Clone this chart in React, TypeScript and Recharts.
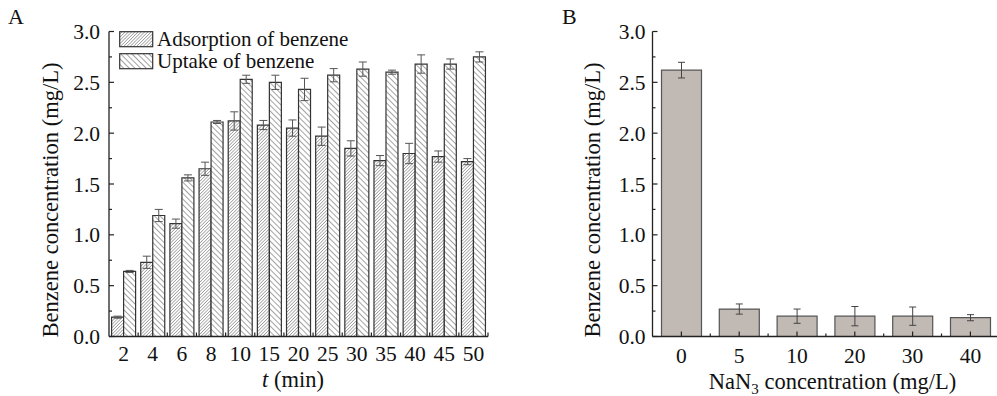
import React from "react"
import { BarChart, Bar, XAxis, YAxis, ErrorBar } from "recharts"

// panel A: time course
const TIMES = ["2", "4", "6", "8", "10", "15", "20", "25", "30", "35", "40", "45", "50"]
const ADSORPTION = [0.19, 0.73, 1.11, 1.65, 2.12, 2.08, 2.05, 1.97, 1.85, 1.73, 1.8, 1.77, 1.72]
const ADSORPTION_ERR = [0.01, 0.06, 0.045, 0.065, 0.09, 0.045, 0.08, 0.09, 0.075, 0.05, 0.1, 0.055, 0.03]
const UPTAKE = [0.64, 1.19, 1.56, 2.11, 2.53, 2.5, 2.43, 2.57, 2.63, 2.6, 2.68, 2.68, 2.75]
const UPTAKE_ERR = [0.01, 0.06, 0.03, 0.015, 0.04, 0.07, 0.11, 0.065, 0.07, 0.02, 0.09, 0.05, 0.05]

// panel B: NaN3 inhibition
const NAN3 = ["0", "5", "10", "20", "30", "40"]
const BENZENE = [2.62, 0.27, 0.2, 0.2, 0.2, 0.185]
const BENZENE_ERR = [0.077, 0.05, 0.07, 0.095, 0.09, 0.03]

const Y_TICKS = [0, 0.25, 0.5, 0.75, 1, 1.25, 1.5, 1.75, 2, 2.25, 2.5, 2.75, 3]

const SERIES_A = ["Adsorption of benzene", "Uptake of benzene"]

const FONT = "'Liberation Serif', 'Times New Roman', serif"
const AXIS = "#222"
const TICK_FS = 21.5
const LABEL_FS = 22.5

const dataA = TIMES.map((t, i) => ({
  t,
  ads: ADSORPTION[i],
  adsErr: ADSORPTION_ERR[i],
  upt: UPTAKE[i],
  uptErr: UPTAKE_ERR[i],
}))

const dataB = NAN3.map((c, i) => ({ c, val: BENZENE[i], err: BENZENE_ERR[i] }))

const A_W = 500
const A_LEFT = 109
const A_RIGHT = 12
const BAND_A = (A_W - A_LEFT - A_RIGHT) / TIMES.length

const B_W = 440
const B_LEFT = 92.5
const B_RIGHT = 0.7
const BAND_B = (B_W - B_LEFT - B_RIGHT) / NAN3.length

const isMajor = (v: number) => Math.abs(v * 2 - Math.round(v * 2)) < 1e-6

const makeYTick = (gap: number) => (props: any) => {
  const { x, y, payload } = props
  const major = isMajor(payload.value)
  return (
    <g>
      <line x1={x} x2={x + (major ? 5 : 3)} y1={y} y2={y} stroke={AXIS} strokeWidth={1.2} />
      {major && (
        <text x={x - gap} y={y} dy="0.35em" textAnchor="end" fontSize={TICK_FS} fontFamily={FONT} fill="#111">
          {payload.value.toFixed(1)}
        </text>
      )}
    </g>
  )
}

const TickA = (props: any) => {
  const { x, y, payload, index } = props
  const edge = x - BAND_A / 2
  return (
    <g>
      {index > 0 && <line x1={edge} x2={edge} y1={y} y2={y - 4} stroke={AXIS} strokeWidth={1.2} />}
      {index === TIMES.length - 1 && (
        <line x1={x + BAND_A / 2} x2={x + BAND_A / 2} y1={y} y2={y - 4} stroke={AXIS} strokeWidth={1.2} />
      )}
      <text x={x} y={y + 24} textAnchor="middle" fontSize={TICK_FS} fontFamily={FONT} fill="#111">
        {payload.value}
      </text>
    </g>
  )
}

const TickB = (props: any) => {
  const { x, y, payload, index } = props
  const edge = x - BAND_B / 2
  return (
    <g>
      <line x1={x} x2={x} y1={y} y2={y - 5} stroke={AXIS} strokeWidth={1.2} />
      {index > 0 && <line x1={edge} x2={edge} y1={y} y2={y - 3} stroke={AXIS} strokeWidth={1.2} />}
      <text x={x} y={y + 26} textAnchor="middle" fontSize={TICK_FS} fontFamily={FONT} fill="#111">
        {payload.value}
      </text>
    </g>
  )
}

const yTitle = (cx: number) => () => (
  <text
    x={cx}
    y={200}
    transform={`rotate(-90, ${cx}, 200)`}
    textAnchor="middle"
    dominantBaseline="central"
    fontSize={LABEL_FS}
    fontFamily={FONT}
    fill="#111"
  >
    Benzene concentration (mg/L)
  </text>
)

const Swatch = ({ id }: { id: string }) => (
  <svg width={35} height={17} style={{ display: "block", marginRight: 3 }}>
    <rect x={0.7} y={0.7} width={33} height={15} fill={`url(#${id})`} stroke="#333" strokeWidth={1.2} />
  </svg>
)

export default function App() {
  return (
    <div
      style={{
        position: "absolute",
        left: 0,
        top: 0,
        width: 997,
        height: 396,
        overflow: "hidden",
        background: "#fff",
        fontFamily: FONT,
      }}
    >
      <svg width={0} height={0} style={{ position: "absolute" }}>
        <defs>
          <pattern id="hatchAds" patternUnits="userSpaceOnUse" width={2.3} height={2.3} patternTransform="rotate(45)">
            <rect width={2.3} height={2.3} fill="#fff" />
            <line x1={0} y1={0} x2={0} y2={2.3} stroke="#555" strokeWidth={0.9} />
          </pattern>
          <pattern id="hatchUpt" patternUnits="userSpaceOnUse" width={4} height={4} patternTransform="rotate(-45)">
            <rect width={4} height={4} fill="#fff" />
            <line x1={0} y1={0} x2={0} y2={4} stroke="#333" strokeWidth={0.9} />
          </pattern>
        </defs>
      </svg>

      <div style={{ position: "absolute", left: 8, top: 4, fontSize: 22, lineHeight: "26px", color: "#111" }}>A</div>
      <div style={{ position: "absolute", left: 562, top: 4, fontSize: 22, lineHeight: "26px", color: "#111" }}>B</div>

      <div style={{ position: "absolute", left: 0, top: 0 }}>
        <BarChart
          width={A_W}
          height={396}
          data={dataA}
          margin={{ top: 31.5, right: A_RIGHT, bottom: 0, left: 0 }}
          barCategoryGap={2.6}
          barGap={0}
        >
          <XAxis
            dataKey="t"
            height={59.5}
            axisLine={{ stroke: AXIS, strokeWidth: 1.3 }}
            tickLine={false}
            tickSize={0}
            tickMargin={0}
            interval={0}
            tick={TickA}
            label={{
              content: () => (
                <text x={293} y={387} textAnchor="middle" fontSize={LABEL_FS} fontFamily={FONT} fill="#111">
                  <tspan fontStyle="italic">t</tspan> (min)
                </text>
              ),
            }}
          />
          <YAxis
            width={A_LEFT}
            domain={[0, 3]}
            ticks={Y_TICKS}
            interval={0}
            axisLine={{ stroke: AXIS, strokeWidth: 1.3 }}
            tickLine={false}
            tickSize={0}
            tickMargin={0}
            tick={makeYTick(9)}
            label={{ content: yTitle(50) }}
          />
          <Bar dataKey="ads" name={SERIES_A[0]} fill="url(#hatchAds)" stroke="#333" strokeWidth={1.2} isAnimationActive={false}>
            <ErrorBar dataKey="adsErr" width={4} stroke="#555" strokeWidth={1} direction="y" />
          </Bar>
          <Bar dataKey="upt" name={SERIES_A[1]} fill="url(#hatchUpt)" stroke="#333" strokeWidth={1.2} isAnimationActive={false}>
            <ErrorBar dataKey="uptErr" width={4} stroke="#555" strokeWidth={1} direction="y" />
          </Bar>
        </BarChart>
      </div>

      <div style={{ position: "absolute", left: 119, top: 28, fontSize: 21, color: "#111", lineHeight: "22px" }}>
        {SERIES_A.map((name, i) => (
          <div key={name} style={{ display: "flex", alignItems: "center", height: 22 }}>
            <Swatch id={i === 0 ? "hatchAds" : "hatchUpt"} />
            <span>{name}</span>
          </div>
        ))}
      </div>

      <div style={{ position: "absolute", left: 560, top: 0 }}>
        <BarChart
          width={B_W}
          height={396}
          data={dataB}
          margin={{ top: 31.5, right: B_RIGHT, bottom: 0, left: 0 }}
          barCategoryGap={9}
        >
          <XAxis
            dataKey="c"
            height={59.5}
            axisLine={{ stroke: AXIS, strokeWidth: 1.3 }}
            tickLine={false}
            tickSize={0}
            tickMargin={0}
            interval={0}
            tick={TickB}
            label={{
              content: () => (
                <text x={272.5} y={389} textAnchor="middle" fontSize={LABEL_FS} fontFamily={FONT} fill="#111">
                  NaN
                  <tspan fontSize={15} dy={5}>3</tspan>
                  <tspan dy={-5}> concentration (mg/L)</tspan>
                </text>
              ),
            }}
          />
          <YAxis
            width={B_LEFT}
            domain={[0, 3]}
            ticks={Y_TICKS}
            interval={0}
            axisLine={{ stroke: AXIS, strokeWidth: 1.3 }}
            tickLine={false}
            tickSize={0}
            tickMargin={0}
            tick={makeYTick(7)}
            label={{ content: yTitle(32) }}
          />
          <Bar dataKey="val" fill="#c0b9b4" stroke="#555" strokeWidth={1.2} isAnimationActive={false}>
            <ErrorBar dataKey="err" width={3.5} stroke="#444" strokeWidth={1} direction="y" />
          </Bar>
        </BarChart>
      </div>
    </div>
  )
}
